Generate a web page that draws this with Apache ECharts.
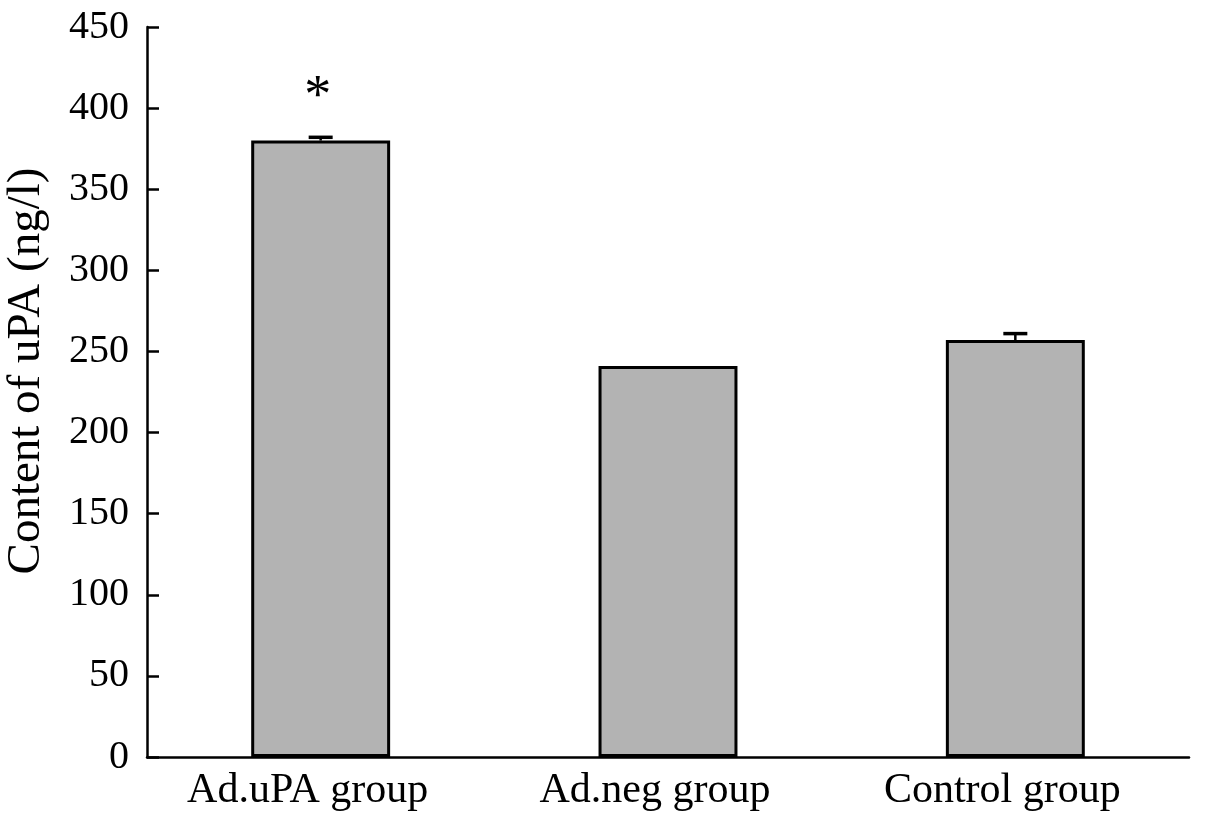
<!DOCTYPE html>
<html>
<head>
<meta charset="utf-8">
<script src="https://cdn.jsdelivr.net/npm/echarts@6/dist/echarts.min.js"></script>
<style>html,body{margin:0;padding:0;background:#fff}#c{width:1205px;height:823px}</style>
</head>
<body>
<div id="c"></div>
<script>
const categories = ['Ad.uPA group', 'Ad.neg group', 'Control group'];
const values = [380, 241, 257];
const errors = [2, 0, 4];
const yTicks = [0, 50, 100, 150, 200, 250, 300, 350, 400, 450];
const marks = ['*', '', ''];

const chart = echarts.init(document.getElementById('c'));
const font = 'Liberation Serif';
chart.setOption({
  animation: false,
  backgroundColor: '#fff',
  grid: { left: 147, right: 16, top: 27, bottom: 66, containLabel: false, outerBoundsMode: 'none' },
  xAxis: {
    type: 'category',
    data: categories,
    axisLine: { lineStyle: { color: '#000', width: 2.5 } },
    axisTick: { inside: true, length: 10, lineStyle: { color: '#000', width: 2.5 } },
    axisLabel: { color: '#000', fontFamily: font, fontSize: 42, margin: 13, padding: [0, 26, 0, 0] }
  },
  yAxis: {
    type: 'value',
    min: yTicks[0], max: yTicks[yTicks.length - 1], interval: 50,
    name: 'Content of uPA (ng/l)',
    nameLocation: 'middle',
    nameGap: 97,
    nameTextStyle: { color: '#000', fontFamily: font, fontSize: 47, padding: [0, 0, 0, 42] },
    splitLine: { show: false },
    axisLine: { show: true, lineStyle: { color: '#000', width: 2.5 } },
    axisTick: { show: true, inside: true, length: 12, lineStyle: { color: '#000', width: 2.5 } },
    axisLabel: { color: '#000', fontFamily: font, fontSize: 40, margin: 18 }
  },
  series: [
    {
      type: 'bar',
      barWidth: '40%',
      data: values.map((v, i) => ({
        value: v,
        label: {
          show: marks[i] !== '',
          formatter: marks[i],
          position: 'top',
          distance: 16,
          offset: [-3, 0],
          color: '#000',
          fontFamily: font,
          fontSize: 54
        }
      })),
      itemStyle: { color: '#b3b3b3', borderColor: '#000', borderWidth: 3 },
      z: 2
    },
    {
      type: 'custom',
      z: 3,
      data: values.map((v, i) => [i, v, errors[i]]),
      renderItem: function (params, api) {
        const i = api.value(0), v = api.value(1), e = api.value(2);
        if (!e) return null;
        const p0 = api.coord([i, v]);
        const p1 = api.coord([i, v + e]);
        const hw = 12;
        return {
          type: 'group',
          children: [
            { type: 'line', shape: { x1: p0[0], y1: p0[1], x2: p1[0], y2: p1[1] }, style: { stroke: '#000', lineWidth: 2.5 } },
            { type: 'line', shape: { x1: p1[0] - hw, y1: p1[1], x2: p1[0] + hw, y2: p1[1] }, style: { stroke: '#000', lineWidth: 3.5 } }
          ]
        };
      }
    }
  ]
});
</script>
</body>
</html>
